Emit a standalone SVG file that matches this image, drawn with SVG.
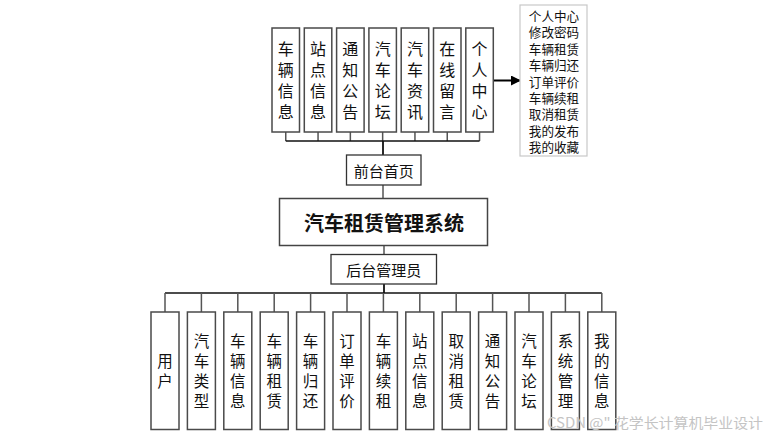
<svg xmlns="http://www.w3.org/2000/svg" width="770" height="436" viewBox="0 0 770 436">
<style>
.box{fill:#fff;stroke:#4a4a4a;stroke-width:1.5}
.t{font-family:"Noto Sans CJK SC","Noto Sans",sans-serif;fill:#111;text-anchor:middle;dominant-baseline:central}
.top{font-size:16px}
.bot{font-size:15.5px}
.lbl{font-size:15px}
.list{font-size:12.6px}
.stub{stroke:#555;stroke-width:1.5;fill:none}
.bus{stroke:#111;stroke-width:1.3;fill:none}
.trunk{stroke:#111;stroke-width:1.8;fill:none}
</style>
<defs>
<marker id="arr" markerWidth="10" markerHeight="10" refX="9" refY="5" orient="auto" markerUnits="userSpaceOnUse">
<path d="M0,0 L10,5 L0,10 Z" fill="#000"/>
</marker>
</defs>
<rect width="770" height="436" fill="#fff"/>
<g id="connectors">
<path class="stub" d="M285.75,132V141M318.05,132V141M350.35,132V141M382.65,132V141M414.95,132V141M447.25,132V141M479.55,132V141"/>
<path class="bus" d="M285.75,141H479.55"/>
<path class="trunk" d="M383,141V155"/>
<path class="stub" d="M383,185V199"/>
<path class="stub" d="M384,246V254"/>
<path class="trunk" d="M384,284V293"/>
<path class="bus" d="M165,293H601.8"/>
<path class="stub" d="M165,293V312M201.4,293V312M237.8,293V312M274.2,293V312M310.6,293V312M347,293V312M383.4,293V312M419.8,293V312M456.2,293V312M492.6,293V312M529,293V312M565.4,293V312M601.8,293V312"/>
<path d="M494,80.5H520" stroke="#000" stroke-width="2" fill="none" marker-end="url(#arr)"/>
</g>
<g id="n_top1"><rect class="box" x="272" y="28" width="27.5" height="104"/><text class="t top"><tspan x="285.75" y="48">车</tspan><tspan x="285.75" y="69">辆</tspan><tspan x="285.75" y="90">信</tspan><tspan x="285.75" y="111">息</tspan></text></g>
<g id="n_top2"><rect class="box" x="304.3" y="28" width="27.5" height="104"/><text class="t top"><tspan x="318.05" y="48">站</tspan><tspan x="318.05" y="69">点</tspan><tspan x="318.05" y="90">信</tspan><tspan x="318.05" y="111">息</tspan></text></g>
<g id="n_top3"><rect class="box" x="336.6" y="28" width="27.5" height="104"/><text class="t top"><tspan x="350.35" y="48">通</tspan><tspan x="350.35" y="69">知</tspan><tspan x="350.35" y="90">公</tspan><tspan x="350.35" y="111">告</tspan></text></g>
<g id="n_top4"><rect class="box" x="368.9" y="28" width="27.5" height="104"/><text class="t top"><tspan x="382.65" y="48">汽</tspan><tspan x="382.65" y="69">车</tspan><tspan x="382.65" y="90">论</tspan><tspan x="382.65" y="111">坛</tspan></text></g>
<g id="n_top5"><rect class="box" x="401.2" y="28" width="27.5" height="104"/><text class="t top"><tspan x="414.95" y="48">汽</tspan><tspan x="414.95" y="69">车</tspan><tspan x="414.95" y="90">资</tspan><tspan x="414.95" y="111">讯</tspan></text></g>
<g id="n_top6"><rect class="box" x="433.5" y="28" width="27.5" height="104"/><text class="t top"><tspan x="447.25" y="48">在</tspan><tspan x="447.25" y="69">线</tspan><tspan x="447.25" y="90">留</tspan><tspan x="447.25" y="111">言</tspan></text></g>
<g id="n_top7"><rect class="box" x="465.8" y="28" width="27.5" height="104"/><text class="t top"><tspan x="479.55" y="48">个</tspan><tspan x="479.55" y="69">人</tspan><tspan x="479.55" y="90">中</tspan><tspan x="479.55" y="111">心</tspan></text></g>
<g id="n_list"><rect x="520" y="5" width="67" height="151" fill="#fff" stroke="#c8c8c8" stroke-width="1.2"/>
<text class="t list"><tspan x="554" y="15">个人中心</tspan><tspan x="554" y="31.4">修改密码</tspan><tspan x="554" y="47.8">车辆租赁</tspan><tspan x="554" y="64.2">车辆归还</tspan><tspan x="554" y="80.6">订单评价</tspan><tspan x="554" y="97">车辆续租</tspan><tspan x="554" y="113.4">取消租赁</tspan><tspan x="554" y="129.8">我的发布</tspan><tspan x="554" y="146.2">我的收藏</tspan></text></g>
<g id="n_front"><rect class="box" x="346.5" y="155" width="74.5" height="30" style="stroke:#333;stroke-width:1.3"/><text class="t lbl" x="383.7" y="170">前台首页</text></g>
<g id="n_main"><rect class="box" x="279.5" y="198.5" width="208" height="47" style="stroke:#444;stroke-width:1.5"/><text class="t" x="384" y="222" style="font-size:20px;font-weight:bold">汽车租赁管理系统</text></g>
<g id="n_back"><rect class="box" x="331" y="254.5" width="105.5" height="29.5" style="stroke:#333;stroke-width:1.3"/><text class="t lbl" x="383.7" y="269">后台管理员</text></g>
<g id="n_b1"><rect class="box" x="151" y="312" width="28" height="117.5"/><text class="t bot"><tspan x="165" y="360">用</tspan><tspan x="165" y="380">户</tspan></text></g>
<g id="n_b2"><rect class="box" x="187.4" y="312" width="28" height="117.5"/><text class="t bot"><tspan x="201.4" y="340">汽</tspan><tspan x="201.4" y="360">车</tspan><tspan x="201.4" y="380">类</tspan><tspan x="201.4" y="400">型</tspan></text></g>
<g id="n_b3"><rect class="box" x="223.8" y="312" width="28" height="117.5"/><text class="t bot"><tspan x="237.8" y="340">车</tspan><tspan x="237.8" y="360">辆</tspan><tspan x="237.8" y="380">信</tspan><tspan x="237.8" y="400">息</tspan></text></g>
<g id="n_b4"><rect class="box" x="260.2" y="312" width="28" height="117.5"/><text class="t bot"><tspan x="274.2" y="340">车</tspan><tspan x="274.2" y="360">辆</tspan><tspan x="274.2" y="380">租</tspan><tspan x="274.2" y="400">赁</tspan></text></g>
<g id="n_b5"><rect class="box" x="296.6" y="312" width="28" height="117.5"/><text class="t bot"><tspan x="310.6" y="340">车</tspan><tspan x="310.6" y="360">辆</tspan><tspan x="310.6" y="380">归</tspan><tspan x="310.6" y="400">还</tspan></text></g>
<g id="n_b6"><rect class="box" x="333" y="312" width="28" height="117.5"/><text class="t bot"><tspan x="347" y="340">订</tspan><tspan x="347" y="360">单</tspan><tspan x="347" y="380">评</tspan><tspan x="347" y="400">价</tspan></text></g>
<g id="n_b7"><rect class="box" x="369.4" y="312" width="28" height="117.5"/><text class="t bot"><tspan x="383.4" y="340">车</tspan><tspan x="383.4" y="360">辆</tspan><tspan x="383.4" y="380">续</tspan><tspan x="383.4" y="400">租</tspan></text></g>
<g id="n_b8"><rect class="box" x="405.8" y="312" width="28" height="117.5"/><text class="t bot"><tspan x="419.8" y="340">站</tspan><tspan x="419.8" y="360">点</tspan><tspan x="419.8" y="380">信</tspan><tspan x="419.8" y="400">息</tspan></text></g>
<g id="n_b9"><rect class="box" x="442.2" y="312" width="28" height="117.5"/><text class="t bot"><tspan x="456.2" y="340">取</tspan><tspan x="456.2" y="360">消</tspan><tspan x="456.2" y="380">租</tspan><tspan x="456.2" y="400">赁</tspan></text></g>
<g id="n_b10"><rect class="box" x="478.6" y="312" width="28" height="117.5"/><text class="t bot"><tspan x="492.6" y="340">通</tspan><tspan x="492.6" y="360">知</tspan><tspan x="492.6" y="380">公</tspan><tspan x="492.6" y="400">告</tspan></text></g>
<g id="n_b11"><rect class="box" x="515" y="312" width="28" height="117.5"/><text class="t bot"><tspan x="529" y="340">汽</tspan><tspan x="529" y="360">车</tspan><tspan x="529" y="380">论</tspan><tspan x="529" y="400">坛</tspan></text></g>
<g id="n_b12"><rect class="box" x="551.4" y="312" width="28" height="117.5"/><text class="t bot"><tspan x="565.4" y="340">系</tspan><tspan x="565.4" y="360">统</tspan><tspan x="565.4" y="380">管</tspan><tspan x="565.4" y="400">理</tspan></text></g>
<g id="n_b13"><rect class="box" x="587.8" y="312" width="28" height="117.5"/><text class="t bot"><tspan x="601.8" y="340">我</tspan><tspan x="601.8" y="360">的</tspan><tspan x="601.8" y="380">信</tspan><tspan x="601.8" y="400">息</tspan></text></g>
<text x="547" y="422" style="font-family:'Noto Sans CJK SC','Noto Sans',sans-serif;font-size:14px;fill:#c4c4c4;dominant-baseline:central" textLength="216" lengthAdjust="spacingAndGlyphs">CSDN @" 花学长计算机毕业设计</text>
</svg>
